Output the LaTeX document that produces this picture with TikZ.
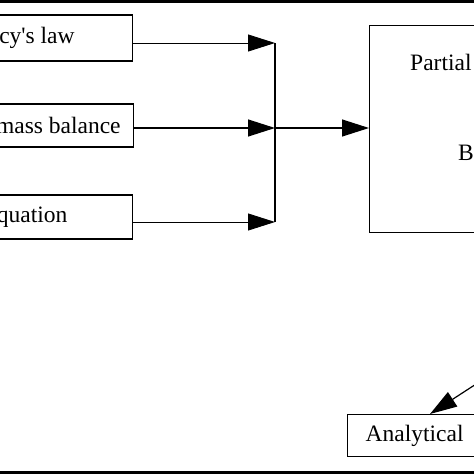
\documentclass[tikz,border=0pt]{standalone}
\usepackage{fontspec}
\setmainfont{Liberation Serif}
\usepackage{tikz}
\usetikzlibrary{arrows.meta}
\usetikzlibrary{positioning}
\tikzset{auto, >={Triangle[length=27pt,width=17pt]}, x=1pt, y=-1pt, font=\fontsize{23.5}{23.5}\selectfont}
\tikzstyle{block} = [draw, fill=white, rectangle, line width=1.3pt, inner sep=0pt, text centered]
\tikzstyle{label} = [inner sep=0pt]
\tikzstyle{input} = [coordinate]
\tikzstyle{thin arrow} = [->, line width=0.9pt]
\tikzstyle{thick arrow} = [->, line width=1.2pt]

\begin{document}
\begin{tikzpicture}
    \useasboundingbox (0,0) rectangle (474,474);
    \clip (0,0) rectangle (474,474);
    \fill (0,0) rectangle (474,2.5);
    \fill (0,471) rectangle (474,474);

    \node [block, anchor=east, minimum width=226pt, minimum height=46pt] (darcy) at (133,38) {Darcy\textquotesingle s law};
    \node [block, anchor=east, minimum width=150pt, minimum height=43pt] (mass) at (134,125.5) {mass balance};
    \node [block, anchor=east, minimum width=211pt, minimum height=44pt] (state) at (133,217) {equation};
    \node [block, anchor=north west, minimum width=260pt, minimum height=207pt] (pde) at (369,25) {};
    \node [label, anchor=base west] (partial) at (410,70) {Partial};
    \node [label, anchor=base west] (bnd) at (458,160) {B};
    \node [block, anchor=north west, minimum height=42pt, text width=160pt, align=left, inner xsep=18pt] (analytic) at (347,414) {Analytical};

    \node [input] (j_top) at (275,43) {};
    \node [input] (j_mid) at (275,128) {};
    \node [input] (j_bot) at (275,222) {};
    \node [input] (src) at (490,375) {};

    \draw [thin arrow] ([yshift=-5pt]darcy.east) -- (j_top);
    \draw [thick arrow] ([yshift=-2.5pt]mass.east) -- (j_mid);
    \draw [thin arrow] ([yshift=-5pt]state.east) -- (j_bot);
    \draw [line width=1.2pt] (j_top) -- (j_bot);
    \draw [thick arrow] (j_mid) -- (j_mid -| pde.west);
    \draw [thick arrow] (src) -- ([xshift=83pt]analytic.north west);
\end{tikzpicture}
\end{document}
